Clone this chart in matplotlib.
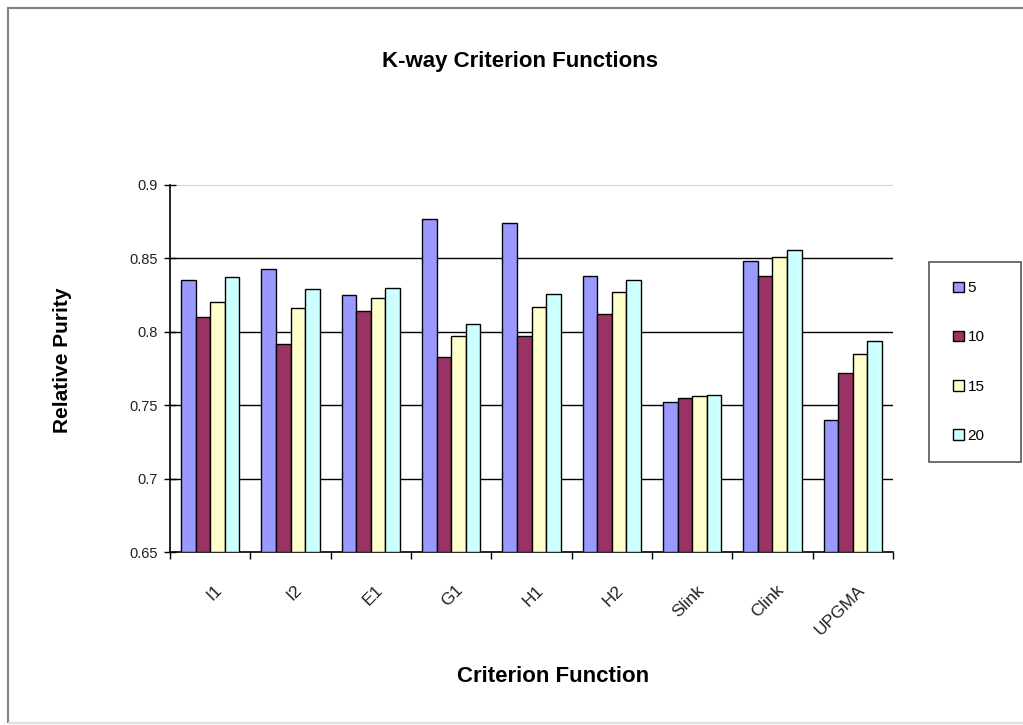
import matplotlib
matplotlib.use("Agg")
import matplotlib.pyplot as plt
import numpy as np
from matplotlib.patches import Rectangle

# purity values per criterion function, one list per number of clusters
criteria = ["I1", "I2", "E1", "G1", "H1", "H2", "Slink", "Clink", "UPGMA"]
k5 = [0.835, 0.843, 0.825, 0.877, 0.874, 0.838, 0.752, 0.848, 0.740]
k10 = [0.810, 0.792, 0.814, 0.783, 0.797, 0.812, 0.755, 0.838, 0.772]
k15 = [0.820, 0.816, 0.823, 0.797, 0.817, 0.827, 0.756, 0.851, 0.785]
k20 = [0.837, 0.829, 0.830, 0.805, 0.826, 0.835, 0.757, 0.856, 0.794]
series_labels = ["5", "10", "15", "20"]
colors = ["#9999FF", "#993366", "#FFFFCC", "#CCFFFF"]

yticks = [0.65, 0.7, 0.75, 0.8, 0.85, 0.9]
ytick_labels = ["0.65", "0.7", "0.75", "0.8", "0.85", "0.9"]

plt.rcParams["font.family"] = ["Liberation Sans", "DejaVu Sans"]

W, H = 1023, 725
fig = plt.figure(figsize=(W / 100, H / 100), dpi=100)

# chart frame
fig.patches.append(Rectangle((8 / W, 2 / H), 1.2, (H - 10) / H, transform=fig.transFigure,
                             fill=False, edgecolor="#808080", lw=1.5))
fig.patches.append(Rectangle((8 / W, 2 / H), 1.2, 0, transform=fig.transFigure,
                             fill=False, edgecolor="#e0e0e0", lw=1.5))

ax = fig.add_axes([170 / W, (H - 552) / H, (893 - 170) / W, (552 - 185) / H])

x = np.arange(len(criteria))
series = [k5, k10, k15, k20]
n = len(series)
bw = 1 / (n + 1.5)
for i, (vals, lab, c) in enumerate(zip(series, series_labels, colors)):
    ax.bar(x + (i - (n - 1) / 2) * bw, np.array(vals) - 0.65, bw, bottom=0.65,
           color=c, edgecolor="black", linewidth=1, label=lab, zorder=3)

ax.set_xlim(-0.5, len(criteria) - 0.5)
ax.set_ylim(0.65, 0.9)
ax.set_yticks(yticks)
ax.set_yticklabels(ytick_labels, fontsize=10.5, color="#222222")
for yv in yticks[1:-1]:
    ax.axhline(yv, color="black", lw=1, zorder=1)
ax.axhline(0.9, color="#c8c8c8", lw=1.2, zorder=1)

# category boundaries get the tick marks, names sit under the centres
ax.set_xticks(np.arange(len(criteria) + 1) - 0.5, minor=False)
ax.set_xticklabels([])
ax.set_xticks(x + 0.05, minor=True)
ax.set_xticklabels(criteria, minor=True, rotation=45, ha="right", va="top",
                   rotation_mode="anchor", fontsize=12.5, color="#222222")
ax.tick_params(axis="x", which="major", direction="out", length=5, width=1)
ax.tick_params(axis="x", which="minor", length=0, pad=22)
ax.tick_params(axis="y", direction="inout", length=9, width=1, pad=4)

for side in ["top", "right"]:
    ax.spines[side].set_visible(False)
for side in ["left", "bottom"]:
    ax.spines[side].set_color("black")
    ax.spines[side].set_linewidth(1.2)

fig.text(520 / W, 1 - 62 / H, "K-way Criterion Functions", ha="center", va="center",
         fontsize=16, fontweight="bold")
fig.text(553 / W, 1 - 676 / H, "Criterion Function", ha="center", va="center",
         fontsize=16, fontweight="bold")
fig.text(62 / W, 1 - 360 / H, "Relative Purity", ha="center", va="center",
         rotation=90, fontsize=15, fontweight="bold")

# legend box drawn separately so the padding can be wider than tall
fig.patches.append(Rectangle((929 / W, 1 - 462 / H), 92 / W, 200 / H,
                             transform=fig.transFigure, fill=False,
                             edgecolor="#555555", lw=1.2))
leg = ax.legend(loc="center left", bbox_to_anchor=(953 / W, 1 - 362 / H),
                bbox_transform=fig.transFigure, frameon=False,
                fontsize=11, handlelength=0.7, handleheight=0.7, handletextpad=0.25,
                labelspacing=2.3, borderpad=0, borderaxespad=0)

fig.savefig("out.png", dpi=100)
